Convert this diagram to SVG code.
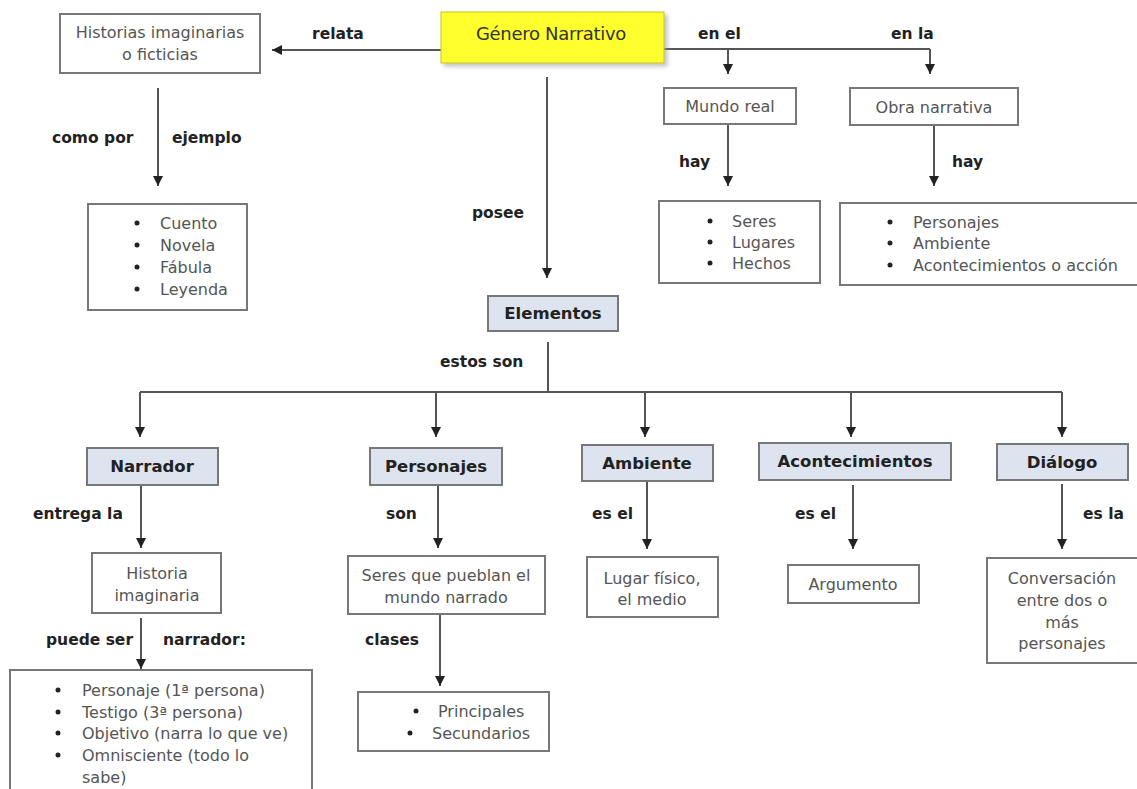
<svg xmlns="http://www.w3.org/2000/svg" width="1137" height="789" viewBox="0 0 1137 789">
<defs>
<marker id="ah" markerUnits="userSpaceOnUse" markerWidth="10" markerHeight="10" viewBox="0 0 10 10" refX="10" refY="5" orient="auto">
<path d="M0,0 L10,5 L0,10 z" fill="#222"/>
</marker>
<filter id="sh" x="-10%" y="-10%" width="130%" height="140%">
<feDropShadow dx="3" dy="3" stdDeviation="2" flood-color="#999" flood-opacity="0.6"/>
</filter>
</defs>
<style>
.box{fill:#fff;stroke:#777;stroke-width:2}
.head{fill:#dde4ef;stroke:#777;stroke-width:2}
.main{fill:#ffff2e;stroke:#c8c800;stroke-width:1}
.t{font-family:"DejaVu Sans",Verdana,sans-serif;font-size:16px;fill:#555;text-anchor:middle}
.tl{font-family:"DejaVu Sans",Verdana,sans-serif;font-size:16px;fill:#555}
.b{font-family:"DejaVu Sans",Verdana,sans-serif;font-size:15.5px;font-weight:bold;fill:#222}
.h{font-family:"DejaVu Sans",Verdana,sans-serif;font-size:16.5px;font-weight:bold;fill:#222;text-anchor:middle}
.c{stroke:#555;stroke-width:2;fill:none}
.a{marker-end:url(#ah)}
.dot{fill:#222}
</style>
<rect width="1137" height="789" fill="#fff"/>

<g id="connectors">
<path class="c a" d="M441,50 L272,50"/>
<path class="c a" d="M158,88 L158,186"/>
<path class="c" d="M664,49 L930,49"/>
<path class="c a" d="M728,49 L728,74"/>
<path class="c a" d="M930,49 L930,74"/>
<path class="c a" d="M728,124 L728,186"/>
<path class="c a" d="M934,125 L934,186"/>
<path class="c a" d="M547,77 L547,278"/>
<path class="c" d="M548,342 L548,392"/>
<path class="c" d="M140,392 L1062,392"/>
<path class="c a" d="M140,392 L140,437"/>
<path class="c a" d="M436,392 L436,437"/>
<path class="c a" d="M645,392 L645,437"/>
<path class="c a" d="M851,392 L851,437"/>
<path class="c a" d="M1062,392 L1062,437"/>
<path class="c a" d="M141,485 L141,548"/>
<path class="c a" d="M141,618 L141,669"/>
<path class="c a" d="M438,485 L438,548"/>
<path class="c a" d="M440,614 L440,686"/>
<path class="c a" d="M647,481 L647,549"/>
<path class="c a" d="M853,485 L853,549"/>
<path class="c a" d="M1062,484 L1062,549"/>
</g>

<g id="labels">
<text class="b" x="312" y="39">relata</text>
<text class="b" x="52" y="143">como por</text>
<text class="b" x="172" y="143">ejemplo</text>
<text class="b" x="698" y="39">en el</text>
<text class="b" x="891" y="39">en la</text>
<text class="b" x="679" y="167">hay</text>
<text class="b" x="952" y="167">hay</text>
<text class="b" x="472" y="218">posee</text>
<text class="b" x="440" y="367">estos son</text>
<text class="b" x="33" y="519">entrega la</text>
<text class="b" x="386" y="519">son</text>
<text class="b" x="592" y="519">es el</text>
<text class="b" x="795" y="519">es el</text>
<text class="b" x="1083" y="519">es la</text>
<text class="b" x="46" y="645">puede ser</text>
<text class="b" x="163" y="645">narrador:</text>
<text class="b" x="365" y="645">clases</text>
</g>

<g id="genero">
<rect class="main" x="441" y="12" width="223" height="51" filter="url(#sh)"/>
<text x="551" y="40" font-family="DejaVu Sans,Verdana,sans-serif" font-size="18" fill="#333" text-anchor="middle" letter-spacing="-0.3">Género Narrativo</text>
</g>

<g id="historias">
<rect class="box" x="60" y="14" width="200" height="59"/>
<text class="t" x="160" y="38">Historias imaginarias</text>
<text class="t" x="160" y="60">o ficticias</text>
</g>

<g id="ejemplos">
<rect class="box" x="88" y="204" width="159" height="106"/>
<circle class="dot" cx="137" cy="223" r="2.5"/>
<circle class="dot" cx="137" cy="245" r="2.5"/>
<circle class="dot" cx="137" cy="267" r="2.5"/>
<circle class="dot" cx="137" cy="289" r="2.5"/>
<text class="tl" x="160" y="229">Cuento</text>
<text class="tl" x="160" y="251">Novela</text>
<text class="tl" x="160" y="273">Fábula</text>
<text class="tl" x="160" y="295">Leyenda</text>
</g>

<g id="mundo">
<rect class="box" x="664" y="88" width="132" height="36"/>
<text class="t" x="730" y="112">Mundo real</text>
</g>

<g id="seres">
<rect class="box" x="659" y="201" width="161" height="82"/>
<circle class="dot" cx="710" cy="221" r="2.5"/>
<circle class="dot" cx="710" cy="242" r="2.5"/>
<circle class="dot" cx="710" cy="263" r="2.5"/>
<text class="tl" x="732" y="227">Seres</text>
<text class="tl" x="732" y="248">Lugares</text>
<text class="tl" x="732" y="269">Hechos</text>
</g>

<g id="obra">
<rect class="box" x="850" y="88" width="168" height="37"/>
<text class="t" x="934" y="113">Obra narrativa</text>
</g>

<g id="obraLista">
<rect class="box" x="840" y="203" width="300" height="82"/>
<circle class="dot" cx="890" cy="222" r="2.5"/>
<circle class="dot" cx="890" cy="243" r="2.5"/>
<circle class="dot" cx="890" cy="265" r="2.5"/>
<text class="tl" x="913" y="228">Personajes</text>
<text class="tl" x="913" y="249">Ambiente</text>
<text class="tl" x="913" y="271">Acontecimientos o acción</text>
</g>

<g id="elementos">
<rect class="head" x="488" y="296" width="130" height="35"/>
<text class="h" x="553" y="319">Elementos</text>
</g>

<g id="narrador">
<rect class="head" x="87" y="448" width="131" height="37"/>
<text class="h" x="152" y="472">Narrador</text>
</g>

<g id="personajes">
<rect class="head" x="370" y="448" width="132" height="37"/>
<text class="h" x="436" y="472">Personajes</text>
</g>

<g id="ambiente">
<rect class="head" x="582" y="445" width="131" height="36"/>
<text class="h" x="647" y="469">Ambiente</text>
</g>

<g id="acontecimientos">
<rect class="head" x="759" y="443" width="192" height="37"/>
<text class="h" x="855" y="467">Acontecimientos</text>
</g>

<g id="dialogo">
<rect class="head" x="997" y="444" width="131" height="36"/>
<text class="h" x="1062" y="468">Diálogo</text>
</g>

<g id="historia">
<rect class="box" x="92" y="553" width="129" height="60"/>
<text class="t" x="157" y="579">Historia</text>
<text class="t" x="157" y="601">imaginaria</text>
</g>

<g id="tiposNarrador">
<rect class="box" x="10" y="670" width="302" height="125"/>
<circle class="dot" cx="58" cy="690" r="2.5"/>
<circle class="dot" cx="58" cy="712" r="2.5"/>
<circle class="dot" cx="58" cy="733" r="2.5"/>
<circle class="dot" cx="58" cy="755" r="2.5"/>
<text class="tl" x="82" y="696">Personaje (1ª persona)</text>
<text class="tl" x="82" y="718">Testigo (3ª persona)</text>
<text class="tl" x="82" y="739">Objetivo (narra lo que ve)</text>
<text class="tl" x="82" y="761">Omnisciente (todo lo</text>
<text class="tl" x="82" y="783">sabe)</text>
</g>

<g id="seresPueblan">
<rect class="box" x="348" y="556" width="197" height="58"/>
<text class="t" x="446" y="581">Seres que pueblan el</text>
<text class="t" x="446" y="603">mundo narrado</text>
</g>

<g id="clases">
<rect class="box" x="358" y="692" width="191" height="59"/>
<circle class="dot" cx="416" cy="711" r="2.5"/>
<circle class="dot" cx="410" cy="733" r="2.5"/>
<text class="tl" x="438" y="717">Principales</text>
<text class="tl" x="432" y="739">Secundarios</text>
</g>

<g id="lugar">
<rect class="box" x="587" y="557" width="131" height="60"/>
<text class="t" x="652" y="584">Lugar físico,</text>
<text class="t" x="652" y="605">el medio</text>
</g>

<g id="argumento">
<rect class="box" x="788" y="565" width="131" height="38"/>
<text class="t" x="853" y="590">Argumento</text>
</g>

<g id="conversacion">
<rect class="box" x="987" y="558" width="155" height="105"/>
<text class="t" x="1062" y="584">Conversación</text>
<text class="t" x="1062" y="606">entre dos o</text>
<text class="t" x="1062" y="628">más</text>
<text class="t" x="1062" y="649">personajes</text>
</g>
</svg>
